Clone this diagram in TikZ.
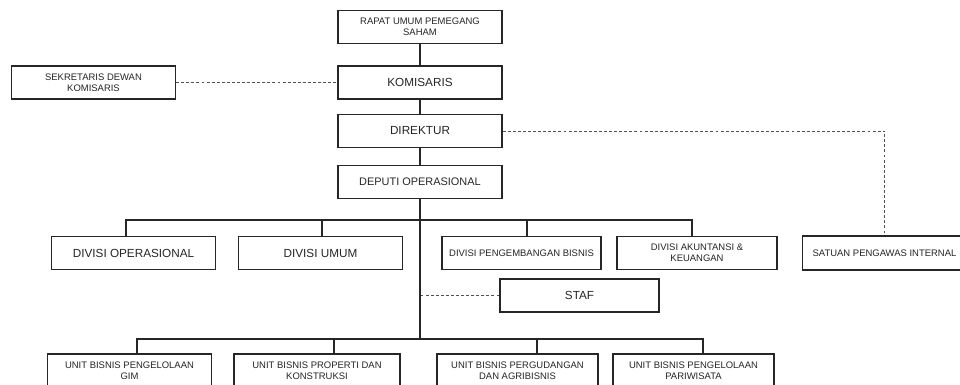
\documentclass[tikz,border=0pt]{standalone}
\usepackage{fontspec}
\setmainfont{Liberation Sans}
\usepackage{tikz}
\usetikzlibrary{positioning, calc}
\definecolor{inkgray}{HTML}{262626}
\tikzstyle{box} = [draw=inkgray, rectangle, line width=1.05pt, minimum width=123pt, minimum height=24.5pt, align=center, inner sep=0pt, text=inkgray, font=\fontsize{7.1}{8}\selectfont]
\tikzstyle{bigbox} = [box, font=\fontsize{8.8}{10}\selectfont]
\tikzstyle{link} = [draw=inkgray, line width=0.85pt]
\tikzstyle{dotlink} = [draw=inkgray!80, line width=0.5pt, dash pattern=on 2.2pt off 1.6pt]

\begin{document}
\begin{tikzpicture}[x=0.75pt, y=-0.75pt]
    \useasboundingbox (0,0) rectangle (960,385);
    \clip (0,0) rectangle (960,385);
    \fill[white] (0,0) rectangle (960,385);

    % top of the chart
    \node (rups) [box] at (420,27) {RAPAT UMUM PEMEGANG\\SAHAM};
    \node (kom) [bigbox] at (420,82.5) {KOMISARIS};
    \node (dir) [bigbox] at (420,131) {DIREKTUR};
    \node (dep) [bigbox, font=\fontsize{8.2}{10}\selectfont] at (420,182) {DEPUTI OPERASIONAL};
    \node (sek) [box] at (93.5,82.5) {SEKRETARIS DEWAN\\KOMISARIS};

    % divisions
    \node (divop) [bigbox] at (133.5,253) {DIVISI OPERASIONAL};
    \node (umum) [bigbox] at (320.5,253) {DIVISI UMUM};
    \node (peng) [box, minimum width=119pt] at (521.5,253) {DIVISI PENGEMBANGAN BISNIS};
    \node (aku) [box, minimum width=120pt] at (697,253) {DIVISI AKUNTANSI \&\\KEUANGAN};
    \node (spi) [box, minimum height=25.5pt] at (884.5,253) {SATUAN PENGAWAS INTERNAL};
    \node (staf) [bigbox, minimum width=119pt] at (579.5,295.5) {STAF};

    % business units
    \node (u1) [box] at (129.5,370.5) {UNIT BISNIS PENGELOLAAN\\GIM};
    \node (u2) [box, minimum width=124.5pt] at (317,370.5) {UNIT BISNIS PROPERTI DAN\\KONSTRUKSI};
    \node (u3) [box, minimum width=121pt] at (517.5,370.5) {UNIT BISNIS PERGUDANGAN\\DAN AGRIBISNIS};
    \node (u4) [box, minimum width=121pt] at (693.5,370.5) {UNIT BISNIS PENGELOLAAN\\PARIWISATA};

    % bus lines
    \coordinate (busA) at (420,220);
    \coordinate (busB) at (420,339);
    \coordinate (busAl) at (126,220);
    \coordinate (busAr) at (692,220);
    \coordinate (busBl) at (137,339);
    \coordinate (busBr) at (703,339);

    % solid lines
    \draw [link] (rups) -- (kom);
    \draw [link] (kom) -- (dir);
    \draw [link] (dir) -- (dep);
    \draw [link] (dep) -- (busB);
    \draw [link] (divop.north -| busAl) -- (busAl) -- (busAr) -- (aku.north -| busAr);
    \draw [link] (umum.north -| 322,0) -- (322,220);
    \draw [link] (peng.north -| 527,0) -- (527,220);
    \draw [link] (u1.north -| busBl) -- (busBl) -- (busBr) -- (u4.north -| busBr);
    \draw [link] (u2.north -| 334,0) -- (334,339);
    \draw [link] (u3.north -| 537,0) -- (537,339);

    % dashed lines
    \draw [dotlink] (sek) -- (kom);
    \draw [dotlink] (dir.east) -| (spi.north);
    \draw [dotlink] (staf.west) -- (staf.west -| busA);
\end{tikzpicture}
\end{document}
